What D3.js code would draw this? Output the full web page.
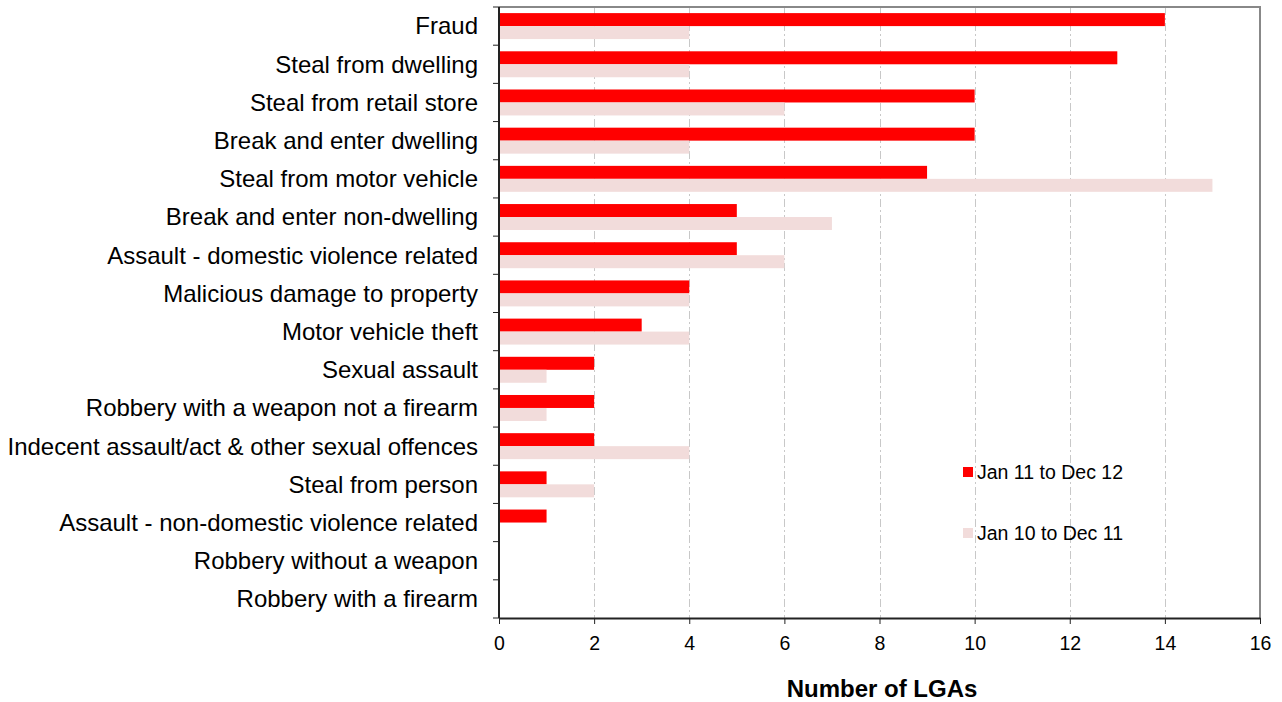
<!DOCTYPE html>
<html>
<head>
<meta charset="utf-8">
<script src="https://cdn.jsdelivr.net/npm/d3@7"></script>
<style>
body { margin: 0; background: #fff; }
svg { font-family: "Liberation Sans", Arial, sans-serif; }
</style>
</head>
<body>
<svg id="chart" width="1282" height="702"></svg>
<script>
// offence categories, top to bottom
var categories = ["Fraud", "Steal from dwelling", "Steal from retail store", "Break and enter dwelling",
	"Steal from motor vehicle", "Break and enter non-dwelling", "Assault - domestic violence related",
	"Malicious damage to property", "Motor vehicle theft", "Sexual assault",
	"Robbery with a weapon not a firearm", "Indecent assault/act & other sexual offences",
	"Steal from person", "Assault - non-domestic violence related", "Robbery without a weapon",
	"Robbery with a firearm"];
var current = [14, 13, 10, 10, 9, 5, 5, 4, 3, 2, 2, 2, 1, 1, 0, 0];
var previous = [4, 4, 6, 4, 15, 7, 6, 4, 4, 1, 1, 4, 2, 0, 0, 0];
var seriesNames = ["Jan 11 to Dec 12", "Jan 10 to Dec 11"];
var xTicks = [0, 2, 4, 6, 8, 10, 12, 14, 16];

var colors = ["#ff0000", "#f2dcdb"];
var pLeft = 499, pRight = 1260, pTop = 7, pBottom = 618;

var svg = d3.select('#chart');

var x = d3.scaleLinear().domain([0, 16]).range([pLeft, pRight]);
var y = d3.scaleBand().domain(categories).range([pTop, pBottom]).paddingInner(0.32).paddingOuter(0.16);
var sub = d3.scaleBand().domain([0, 1]).range([0, y.bandwidth()]);

// gridlines
svg.append('g').selectAll('line').data(xTicks.slice(1, -1)).join('line')
	.attr('x1', function(d){ return Math.round(x(d)) + 0.5; })
	.attr('x2', function(d){ return Math.round(x(d)) + 0.5; })
	.attr('y1', pTop).attr('y2', pBottom)
	.attr('stroke', '#c8c8c8').attr('stroke-width', 1)
	.attr('stroke-dasharray', '8,3,2,3');

// top/right frame
svg.append('path')
	.attr('d', 'M' + pLeft + ',' + pTop + 'H' + pRight + 'V' + pBottom)
	.attr('fill', 'none').attr('stroke', '#888').attr('stroke-width', 2);

// bars
var groups = svg.append('g').selectAll('g').data(categories).join('g')
	.attr('transform', function(d){ return 'translate(0,' + y(d) + ')'; });

groups.append('rect')
	.attr('x', x(0))
	.attr('y', sub(0))
	.attr('height', sub.bandwidth())
	.attr('width', function(d, i){ return x(current[i]) - x(0); })
	.attr('fill', colors[0]);

groups.append('rect')
	.attr('x', x(0))
	.attr('y', sub(1))
	.attr('height', sub.bandwidth())
	.attr('width', function(d, i){ return x(previous[i]) - x(0); })
	.attr('fill', colors[1]);

// x axis
var xAxis = svg.append('g')
	.attr('transform', 'translate(0,' + pBottom + ')')
	.call(d3.axisBottom(x).tickValues(xTicks).tickSize(6).tickSizeOuter(0).tickPadding(12));
xAxis.attr('font-size', 19.5).attr('font-family', '"Liberation Sans", Arial, sans-serif');
xAxis.select('.domain').attr('stroke', '#222').attr('stroke-width', 2);
xAxis.selectAll('.tick line').attr('stroke', '#222');
xAxis.selectAll('text').attr('fill', '#000');

// y axis: ticks at band boundaries
var step = (pBottom - pTop) / categories.length;
svg.append('g').selectAll('line').data(d3.range(categories.length + 1)).join('line')
	.attr('x1', pLeft - 6).attr('x2', pLeft)
	.attr('y1', function(d){ return pTop + d * step; })
	.attr('y2', function(d){ return pTop + d * step; })
	.attr('stroke', '#222').attr('stroke-width', 1);
svg.append('line')
	.attr('x1', pLeft).attr('x2', pLeft).attr('y1', pTop).attr('y2', pBottom)
	.attr('stroke', '#222').attr('stroke-width', 2);

svg.append('g').selectAll('text').data(categories).join('text')
	.attr('x', 478)
	.attr('y', function(d){ return y(d) + y.bandwidth() / 2; })
	.attr('dy', '0.35em')
	.attr('text-anchor', 'end')
	.attr('font-size', 24)
	.text(function(d){ return d; });

// axis title
svg.append('text')
	.attr('x', 882).attr('y', 697)
	.attr('text-anchor', 'middle')
	.attr('font-size', 24).attr('font-weight', 'bold')
	.text('Number of LGAs');

// legend
var legend = svg.append('g').selectAll('g').data(seriesNames).join('g')
	.attr('transform', function(d, i){ return 'translate(963,' + (472 + i * 61) + ')'; });
legend.append('rect')
	.attr('x', 0).attr('y', -5).attr('width', 10).attr('height', 10)
	.attr('fill', function(d, i){ return colors[i]; });
legend.append('text')
	.attr('x', 14).attr('dy', '0.35em')
	.attr('font-size', 19.5)
	.text(function(d){ return d; });
</script>
</body>
</html>
